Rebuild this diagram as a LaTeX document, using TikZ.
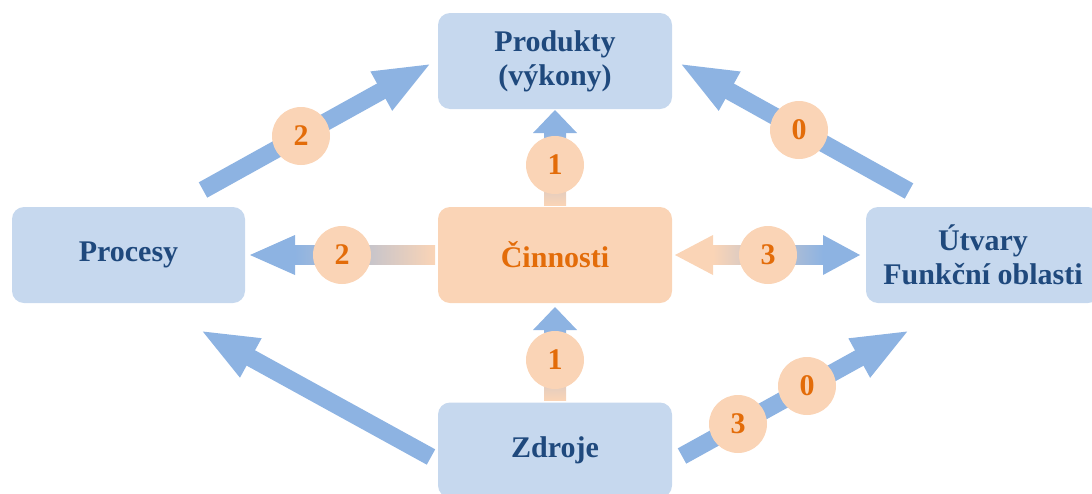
\documentclass[tikz,border=0pt]{standalone}
\usepackage{fontspec}
\setmainfont{Liberation Serif}
\usetikzlibrary{arrows.meta,calc}
\definecolor{boxblue}{HTML}{C6D8EE}
\definecolor{arrblue}{HTML}{8DB3E2}
\definecolor{peach}{HTML}{FAD4B6}
\definecolor{orangetxt}{HTML}{E36C09}
\definecolor{navy}{HTML}{1F497D}
\tikzset{
  box/.style={rounded corners=12pt, minimum width=234pt, minimum height=96pt,
    align=center, inner sep=0pt, font=\fontsize{30}{34}\selectfont\bfseries, text=navy},
  bluebox/.style={box, fill=boxblue},
  peachbox/.style={box, fill=peach, text=orangetxt},
  num/.style={circle, fill=peach, minimum size=58pt, inner sep=0pt,
    font=\fontsize{30}{34}\selectfont\bfseries, text=orangetxt},
  fatarrow/.style={draw=arrblue, line width=17.5pt, line cap=butt,
    -{Triangle[length=58pt,width=40pt]}},
}
\begin{document}
\begin{tikzpicture}[x=1pt,y=-1pt]
\useasboundingbox (0,0) rectangle (1092,493);
% boxes
\node[bluebox] (prod) at (555,61) {Produkty\\(výkony)};
\node[bluebox, minimum width=233pt] (proc) at (128.5,255) {Procesy};
\node[peachbox] (cinn) at (555,255) {Činnosti};
\node[bluebox] (utv) at (983,255) {Útvary\\Funkční oblasti};
\node[bluebox, minimum height=95pt] (zdr) at (555,450) {Zdroje};
% diagonal arrow endpoints
\coordinate (d1s) at (203,190);  \coordinate (d1e) at (432,63);
\coordinate (d2s) at (909,191);  \coordinate (d2e) at (679,63);
\coordinate (d3s) at (431,457);  \coordinate (d3e) at (200,330);
\coordinate (d4s) at (682,456);  \coordinate (d4e) at (910,330);
\draw[fatarrow] (d1s) -- (d1e);
\draw[fatarrow] (d2s) -- (d2e);
\draw[fatarrow] (d3s) -- (d3e);
\draw[fatarrow] (d4s) -- (d4e);
% vertical arrows
\coordinate (v1s) at (555,205); \coordinate (v1e) at (555,110);
\coordinate (v2s) at (555,400); \coordinate (v2e) at (555,307);
\shade[bottom color=peach, top color=arrblue] ($(v1s)+(-11,0)$) rectangle ($(v1e)+(11,23)$);
\fill[arrblue] ($(v1e)+(-22,23)$) -- (v1e) -- ($(v1e)+(22,23)$) -- cycle;
\shade[bottom color=peach, top color=arrblue] ($(v2s)+(-11,0)$) rectangle ($(v2e)+(11,23)$);
\fill[arrblue] ($(v2e)+(-22,23)$) -- (v2e) -- ($(v2e)+(22,23)$) -- cycle;
% horizontal left arrow
\coordinate (h1s) at (435,255); \coordinate (h1e) at (250,255);
\shade[left color=arrblue, right color=peach] ($(h1e)+(45,-9.5)$) rectangle ($(h1s)+(0,9.5)$);
\fill[arrblue] ($(h1e)+(45,-20)$) -- (h1e) -- ($(h1e)+(45,20)$) -- cycle;
% double arrow
\coordinate (h2s) at (675,255); \coordinate (h2e) at (860,255);
\shade[left color=peach, right color=arrblue] ($(h2s)+(38,-9.5)$) rectangle ($(h2e)+(-37,9.5)$);
\fill[peach] ($(h2s)+(38,-20)$) -- (h2s) -- ($(h2s)+(38,20)$) -- cycle;
\fill[arrblue] ($(h2e)+(-37,-20)$) -- (h2e) -- ($(h2e)+(-37,20)$) -- cycle;
% number circles
\node[num] (n1) at (555,165) {1};
\node[num] (n2) at (555,360) {1};
\node[num] (n3) at (342,255) {2};
\node[num] (n4) at (768,255) {3};
\node[num] (n5) at (301,136) {2};
\node[num] (n6) at (799,130) {0};
\node[num] (n7) at (738,424) {3};
\node[num] (n8) at (807,386) {0};
\end{tikzpicture}
\end{document}
